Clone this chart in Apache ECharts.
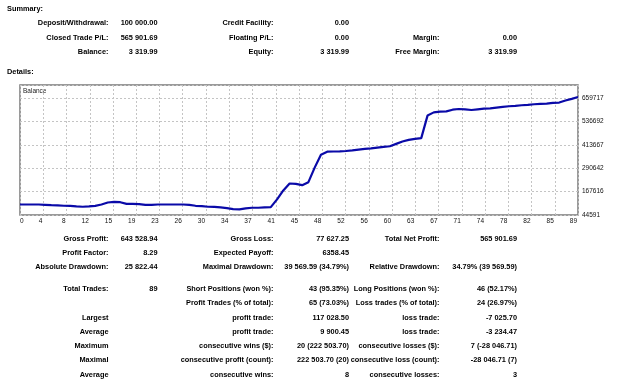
<!DOCTYPE html>
<html>
<head>
<meta charset="utf-8">
<script src="https://cdn.jsdelivr.net/npm/echarts@6/dist/echarts.min.js"></script>
<style>
html, body { margin: 0; padding: 0; background: #fff; }
#main { width: 625px; height: 383px; }
</style>
</head>
<body>
<div id="main"></div>
<script>
// balance after each trade (trade 0 = deposit)
var balance = [
    100000, 100000, 100000, 100000, 98300, 96600, 95000, 93300, 93000, 89700,
    88100, 89700, 93000, 100000, 110300, 113750, 112000, 103400, 103400, 101700,
    98300, 98300, 100000, 100000, 100000, 100000, 100000, 98300, 93100, 91400,
    88000, 87000, 84500, 81000, 75800, 74178, 79500, 82800, 82800, 84500,
    86200, 126600, 173700, 210400, 208600, 201500, 217500, 294000, 362000, 378000,
    378900, 379800, 381600, 385000, 388700, 392300, 395800, 399400, 403000, 406500,
    419000, 431500, 440400, 445800, 449300, 568000, 584800, 588400, 590000, 599000,
    602600, 600900, 597300, 600900, 604400, 606200, 609800, 613400, 617000, 618700,
    622300, 624000, 627600, 629400, 631200, 634800, 636500, 647200, 656200, 665902
];
var xTickLabels = ['0', '4', '8', '12', '15', '19', '23', '26', '30', '34', '37', '41', '45',
    '48', '52', '56', '60', '63', '67', '71', '74', '78', '82', '85', '89'];
var yTickLabels = ['44591', '167616', '290642', '413667', '536692', '659717'];

var summaryRows = [
    ['Deposit/Withdrawal:', '100 000.00', 'Credit Facility:', '0.00', '', ''],
    ['Closed Trade P/L:', '565 901.69', 'Floating P/L:', '0.00', 'Margin:', '0.00'],
    ['Balance:', '3 319.99', 'Equity:', '3 319.99', 'Free Margin:', '3 319.99']
];
var detailRows = [
    ['Gross Profit:', '643 528.94', 'Gross Loss:', '77 627.25', 'Total Net Profit:', '565 901.69'],
    ['Profit Factor:', '8.29', 'Expected Payoff:', '6358.45', '', ''],
    ['Absolute Drawdown:', '25 822.44', 'Maximal Drawdown:', '39 569.59 (34.79%)', 'Relative Drawdown:', '34.79% (39 569.59)'],
    ['Total Trades:', '89', 'Short Positions (won %):', '43 (95.35%)', 'Long Positions (won %):', '46 (52.17%)'],
    ['', '', 'Profit Trades (% of total):', '65 (73.03%)', 'Loss trades (% of total):', '24 (26.97%)'],
    ['Largest', '', 'profit trade:', '117 028.50', 'loss trade:', '-7 025.70'],
    ['Average', '', 'profit trade:', '9 900.45', 'loss trade:', '-3 234.47'],
    ['Maximum', '', 'consecutive wins ($):', '20 (222 503.70)', 'consecutive losses ($):', '7 (-28 046.71)'],
    ['Maximal', '', 'consecutive profit (count):', '222 503.70 (20)', 'consecutive loss (count):', '-28 046.71 (7)'],
    ['Average', '', 'consecutive wins:', '8', 'consecutive losses:', '3']
];

var colRight = [108.5, 157.5, 273.5, 349, 439.5, 517];
var summaryY = [23, 37.5, 52];
var detailY = [238.5, 252.7, 266.8, 288.5, 302.5, 317.3, 331.4, 345.7, 360, 374.3];
var boldFont = 'bold 8px "Liberation Sans", Arial, sans-serif';
var squeeze = 0.92;

var yMin = 44591, yStep = 123025.2;
var xStep = 89 / 24;

function label(txt, x, y, align) {
    return {
        type: 'text', x: x, y: y, scaleX: squeeze, silent: true,
        style: { text: txt, font: boldFont, fill: '#000', align: align, verticalAlign: 'middle' }
    };
}

function tableText(rows, ys) {
    var out = [];
    rows.forEach(function (row, r) {
        row.forEach(function (txt, c) {
            if (txt) out.push(label(txt, colRight[c], ys[r], 'right'));
        });
    });
    return out;
}

var graphics = [
    label('Summary:', 7, 8.5, 'left'),
    label('Details:', 7, 72, 'left'),
    { type: 'text', x: 23, y: 91, style: { text: 'Balance', font: '6.5px "Liberation Sans", Arial, sans-serif', fill: '#222', verticalAlign: 'middle' } }
].concat(tableText(summaryRows, summaryY), tableText(detailRows, detailY));

var option = {
    animation: false,
    backgroundColor: '#fff',
    grid: {
        left: 20, top: 85, width: 558, height: 130,
        show: true, borderColor: '#7a7a7a', borderWidth: 1.5, backgroundColor: '#fff'
    },
    xAxis: {
        type: 'value', min: 0, max: 89, interval: xStep,
        axisLine: { show: false }, axisTick: { show: false },
        splitLine: { show: true, lineStyle: { color: '#c4c4c4', type: [2, 2], width: 1 } },
        axisLabel: {
            margin: 3, fontSize: 6.5, color: '#111', fontFamily: '"Liberation Sans", Arial, sans-serif',
            align: 'right', padding: [0, 1, 0, 0], alignMinLabel: 'left', showMinLabel: true, showMaxLabel: true,
            formatter: function (v) {
                var k = Math.round(v / xStep);
                return Math.abs(v - k * xStep) < 0.2 && xTickLabels[k] !== undefined ? xTickLabels[k] : '';
            }
        }
    },
    yAxis: {
        type: 'value', position: 'right', min: yMin, max: 729000, interval: yStep,
        axisLine: { show: false }, axisTick: { show: false },
        splitLine: { show: true, lineStyle: { color: '#c4c4c4', type: [2, 2], width: 1 } },
        axisLabel: {
            margin: 4, fontSize: 6.5, color: '#111', fontFamily: '"Liberation Sans", Arial, sans-serif',
            showMinLabel: true, showMaxLabel: true,
            formatter: function (v) {
                var k = Math.round((v - yMin) / yStep);
                return Math.abs(v - (yMin + k * yStep)) < 5 && yTickLabels[k] !== undefined ? yTickLabels[k] : '';
            }
        }
    },
    series: [{
        name: 'Balance',
        type: 'line',
        data: balance.map(function (v, i) { return [i, v]; }),
        symbol: 'none',
        lineStyle: { color: '#0a0aa8', width: 2.2 }
    }],
    graphic: graphics
};

var myChart = echarts.init(document.getElementById('main'));
myChart.setOption(option);
</script>
</body>
</html>
